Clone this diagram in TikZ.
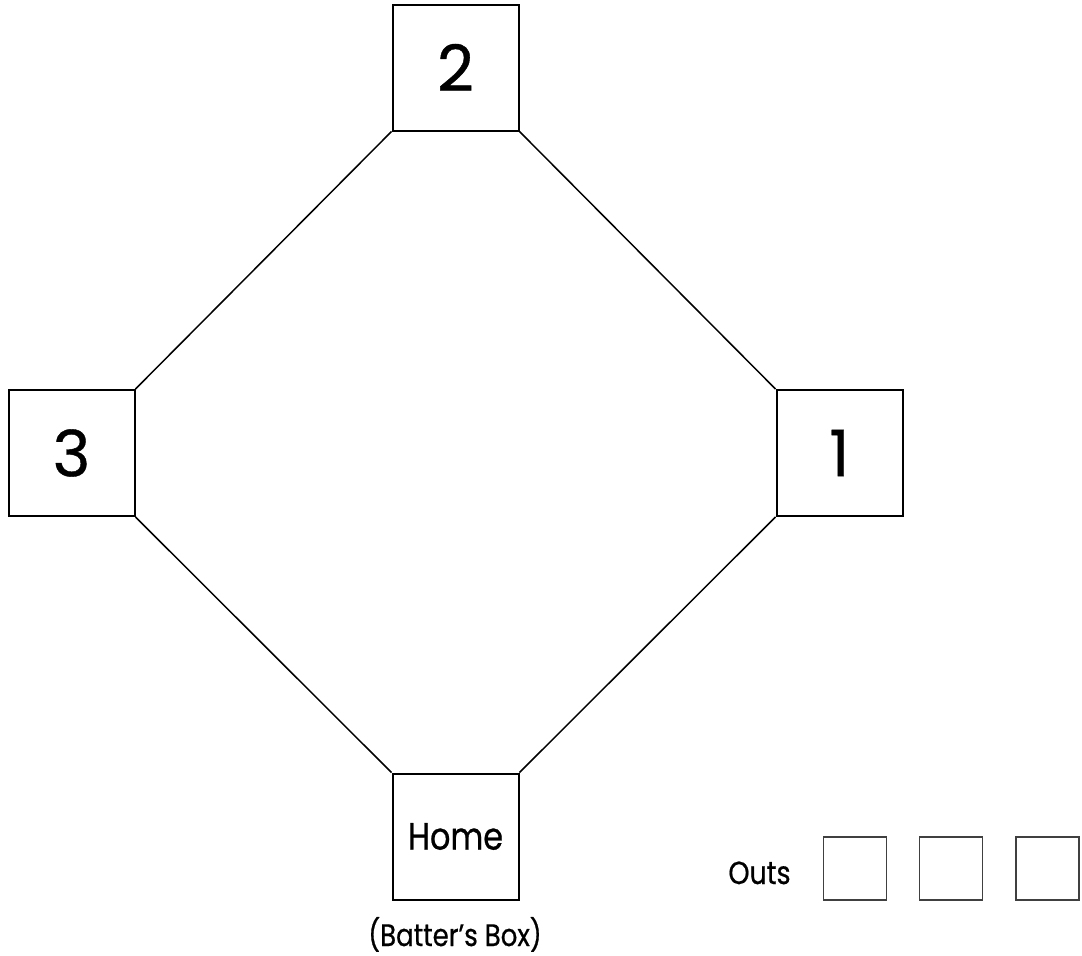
\documentclass[tikz,border=0pt]{standalone}
\usepackage{fontspec}
\setmainfont{Poppins}[FakeBold=0.6]
\newfontfamily\narrowfont{Poppins}[FakeStretch=0.84,FakeBold=0.6]
\begin{document}
\begin{tikzpicture}[x=1pt,y=-1pt,
  base/.style={draw=black,line width=2pt,rectangle,minimum width=126pt,minimum height=126pt,inner sep=0pt},
  outbox/.style={draw=black!75,line width=1.5pt,rectangle,minimum width=63pt,minimum height=63pt,inner sep=0pt},
  basepath/.style={line width=1.5pt,black},
  bignum/.style={font=\fontsize{64}{64}\selectfont},
  label/.style={inner sep=0pt,font=\narrowfont\fontsize{#1}{#1}\selectfont}]
\useasboundingbox (0,0) rectangle (1082,956);
% the four bases
\node[base,bignum] (second) at (455.5,67.5) {2};
\node[base,bignum] (third)  at (71.5,453)  {3};
\node[base,bignum] (first)  at (839.5,453) {1};
\node[base,label=38] (home) at (455.5,836.5) {Home};
% base paths
\draw[basepath] (second.south west) -- (third.north east);
\draw[basepath] (second.south east) -- (first.north west);
\draw[basepath] (third.south east) -- (home.north west);
\draw[basepath] (first.south west) -- (home.north east);
% batter's box caption
\node[label=31,anchor=base] (box) at (455,946) {(Batter’s Box)};
% outs tally
\node[label=32,anchor=base] (outs) at (759.5,884) {Outs};
\node[outbox] (out1) at (855,868.5) {};
\node[outbox] (out2) at (951,868.5) {};
\node[outbox] (out3) at (1047.5,868.5) {};
\end{tikzpicture}
\end{document}
